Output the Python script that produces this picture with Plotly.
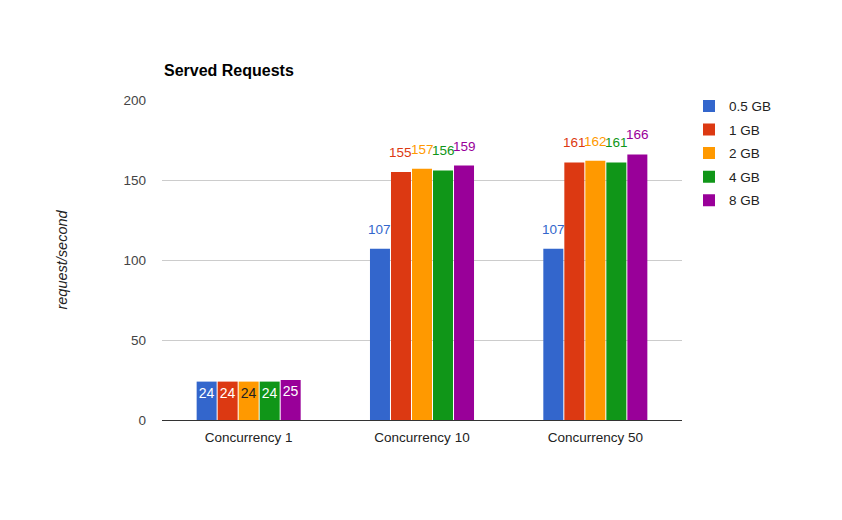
import plotly.graph_objects as go

categories = ["Concurrency 1", "Concurrency 10", "Concurrency 50"]
series_names = ["0.5 GB", "1 GB", "2 GB", "4 GB", "8 GB"]
values_05 = [24, 107, 107]
values_1 = [24, 155, 161]
values_2 = [24, 157, 162]
values_4 = [24, 156, 161]
values_8 = [25, 159, 166]
all_values = [values_05, values_1, values_2, values_4, values_8]
colors = ["#3366cc", "#dc3912", "#ff9900", "#109618", "#990099"]
inside_text_colors = ["#ffffff", "#ffffff", "#222222", "#ffffff", "#ffffff"]
y_ticks = [0, 50, 100, 150, 200]

FONT = "Arial, Liberation Sans, sans-serif"
W, H = 842, 520
ML, MT = 154, 92          # page body adds an 8px offset
PW, PH = 520, 320
MR, MB = W - ML - PW, H - MT - PH
BARGAP = 0.394
BARGROUPGAP = 0.048
slot = PW / len(categories) * (1 - BARGAP) / len(series_names)

fig = go.Figure()
annotations = []
for i, (name, vals, col) in enumerate(zip(series_names, all_values, colors)):
    inside = [str(v) if v < 50 else "" for v in vals]
    fig.add_trace(go.Bar(
        name=name, x=categories, y=vals, marker=dict(color=col, line=dict(width=0)),
        text=inside, textposition="inside", insidetextanchor="end",
        constraintext="none",
        insidetextfont=dict(color=inside_text_colors[i], size=14, family=FONT),
        legendgroup=name, hoverinfo="x+y+name",
    ))
    for c, v in zip(categories, vals):
        if v >= 50:
            annotations.append(dict(
                x=c, y=v, xref="x", yref="y", text=str(v), showarrow=False,
                xshift=(i - (len(series_names) - 1) / 2) * slot,
                yanchor="bottom", yshift=10,
                font=dict(color=col, size=13.5, family=FONT),
            ))

annotations.append(dict(
    x=0, y=1, xref="paper", yref="paper", text="<b>Served Requests</b>",
    showarrow=False, xanchor="left", yanchor="bottom", yshift=19,
    font=dict(size=16, color="#000000", family=FONT),
))

fig.update_layout(
    width=W, height=H,
    margin=dict(l=ML, r=MR, t=MT, b=MB, autoexpand=False),
    paper_bgcolor="white", plot_bgcolor="white",
    barmode="group", bargap=BARGAP, bargroupgap=BARGROUPGAP,
    font=dict(family=FONT, size=13.5, color="#222222"),
    annotations=annotations,
    legend=dict(
        x=(697 - 8 - 162) / PW, y=1.029, xanchor="left", yanchor="top",
        font=dict(size=13.5, color="#222222", family=FONT),
        traceorder="grouped", tracegroupgap=3, itemwidth=30,
        bgcolor="rgba(0,0,0,0)",
    ),
    showlegend=True,
)
fig.update_xaxes(
    showgrid=False, showline=False, zeroline=False, ticks="",
    tickfont=dict(size=13.5, color="#222222", family=FONT),
    ticklabelstandoff=7,
)
fig.update_yaxes(
    range=[0, 200], tickvals=y_ticks, ticktext=[str(t) for t in y_ticks],
    showgrid=True, gridcolor="#cccccc", gridwidth=1,
    zeroline=True, zerolinecolor="#333333", zerolinewidth=1,
    showline=False, ticks="",
    tickfont=dict(size=13.5, color="#444444", family=FONT),
    ticklabelstandoff=15,
    title=dict(text="<i>request/second</i>", standoff=52,
               font=dict(size=14.5, color="#222222", family=FONT)),
)

fig.write_html("out.html")
